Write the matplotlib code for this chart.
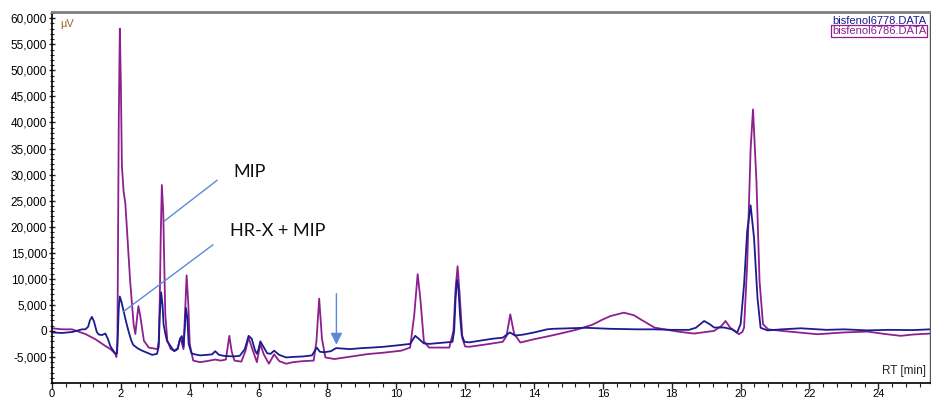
import matplotlib.pyplot as plt
from matplotlib.ticker import MultipleLocator, FuncFormatter

# retention time [min] and signal [uV]
t_6778 = [0.0, 0.3, 0.6, 0.87, 0.97, 1.05, 1.1, 1.16, 1.22, 1.3, 1.36, 1.45, 1.55, 1.62, 1.7,
          1.84, 1.89, 1.91, 1.94, 1.97, 2.02, 2.08, 2.15, 2.22, 2.3, 2.36, 2.5, 2.62, 2.8, 2.91,
          3.05, 3.1, 3.13, 3.17, 3.21, 3.24, 3.29, 3.34, 3.45, 3.55, 3.65, 3.72, 3.77, 3.82, 3.86,
          3.89, 3.93, 3.97, 4.05, 4.15, 4.3, 4.5, 4.65, 4.74, 4.85, 5.0, 5.27, 5.45, 5.6, 5.71,
          5.8, 5.9, 5.95, 6.0, 6.05, 6.12, 6.25, 6.35, 6.45, 6.6, 6.8, 7.0, 7.3, 7.55, 7.69,
          7.78, 7.9, 8.1, 8.25, 8.45, 8.66, 9.0, 9.3, 9.63, 10.0, 10.4, 10.55, 10.65, 10.8, 10.95,
          11.3, 11.63, 11.68, 11.72, 11.76, 11.8, 11.85, 11.9, 11.98, 12.12, 12.5, 12.8, 13.09, 13.3, 13.45,
          13.7, 14.0, 14.38, 14.56, 15.0, 15.5, 16.2, 17.0, 17.5, 18.0, 18.5, 18.7, 18.94, 19.1, 19.23,
          19.52, 19.75, 19.9, 20.0, 20.1, 20.19, 20.29, 20.39, 20.49, 20.58, 20.78, 21.2, 21.74, 22.5, 23.0,
          23.68, 24.3, 25.0, 25.5]
v_6778 = [-300, -400, -200, 300, 300, 800, 2000, 2700, 1800, -200, -700, -800, -500, -1500, -3000,
          -4400, -4300, -1000, 4500, 6600, 5500, 3800, 1800, 0, -1800, -2700, -3400, -3800, -4300, -4600,
          -4400, -3000, 3000, 7400, 5000, 1300, -500, -1900, -3000, -3900, -3500, -1500, -1000, -3000, 1000,
          4400, 2500, -2500, -4300, -4500, -4700, -4600, -4500, -3900, -4600, -4800, -4900, -4800, -3500, -950,
          -1500, -3800, -4400, -3500, -2000, -2800, -4300, -4400, -3800, -4600, -5100, -5000, -4900, -4700, -3200,
          -4000, -4100, -3900, -3300, -3400, -3500, -3300, -3200, -3050, -2800, -2500, -950, -1500, -2400, -2500,
          -2300, -2100, 0, 6000, 9800, 8500, 3000, -800, -2100, -2200, -1800, -1500, -1300, -300, -900,
          -700, -300, 300, 400, 500, 600, 400, 300, 300, 200, 200, 600, 1900, 1300, 650,
          650, 300, -300, 1300, 8900, 19100, 24100, 17800, 6300, 600, 100, 300, 500, 200, 300,
          100, 200, 150, 300]

t_6786 = [0.0, 0.3, 0.58, 0.8, 0.97, 1.26, 1.55, 1.7, 1.84, 1.87, 1.9, 1.92, 1.94, 1.97, 2.0,
          2.03, 2.08, 2.13, 2.18, 2.27, 2.37, 2.42, 2.47, 2.51, 2.56, 2.67, 2.81, 3.06, 3.1, 3.13,
          3.16, 3.19, 3.23, 3.26, 3.29, 3.35, 3.45, 3.55, 3.65, 3.72, 3.76, 3.82, 3.86, 3.91, 3.96,
          4.0, 4.1, 4.3, 4.5, 4.74, 4.9, 5.05, 5.15, 5.22, 5.3, 5.5, 5.62, 5.71, 5.82, 5.95,
          6.05, 6.15, 6.3, 6.45, 6.6, 6.8, 7.0, 7.3, 7.6, 7.68, 7.76, 7.84, 7.94, 8.2, 8.6,
          9.17, 9.6, 10.14, 10.4, 10.52, 10.62, 10.7, 10.8, 10.95, 11.54, 11.66, 11.72, 11.78, 11.84, 11.92,
          12.0, 12.12, 12.6, 13.09, 13.2, 13.31, 13.42, 13.6, 14.0, 14.47, 14.9, 15.27, 15.7, 16.0, 16.22,
          16.61, 16.9, 17.1, 17.5, 18.17, 18.65, 19.0, 19.23, 19.45, 19.56, 19.7, 19.95, 20.05, 20.1, 20.19,
          20.29, 20.36, 20.46, 20.55, 20.65, 20.8, 21.2, 22.23, 23.0, 23.68, 24.2, 24.65, 25.0, 25.5]
v_6786 = [500, 300, 300, -200, -600, -1600, -2900, -3500, -4400, -5000, -2000, 20000, 41000, 58000, 47500,
          31700, 26700, 24500, 19100, 9500, 1300, -600, 2500, 4760, 3000, -1900, -3200, -3500, -2000, 6000,
          19000, 28000, 22900, 12700, 3200, -1900, -3500, -3800, -3300, -1500, -2000, -3500, 3000, 10660, 5000,
          -2500, -5700, -6000, -5800, -5500, -5700, -5500, -950, -4000, -5700, -5900, -3800, -1300, -3500, -6000,
          -2500, -4500, -6300, -4500, -5800, -6300, -6000, -5800, -5700, -2000, 6200, -1500, -5100, -5400, -5000,
          -4450, -4200, -3800, -3200, 3000, 10900, 6000, -2000, -3200, -3200, 0, 8000, 12400, 7000, -1500,
          -3000, -3050, -2600, -2100, -1000, 3170, -500, -2230, -1600, -950, -300, 300, 1200, 2200, 2850,
          3500, 3000, 2200, 630, -130, -510, -200, 0, 1000, 1900, 600, -640, -200, 630, 12700,
          34900, 42500, 28600, 9500, 1270, 300, 0, -640, -300, -130, -600, -950, -700, -510]

y_ticks = list(range(-5000, 60001, 5000))
x_ticks = list(range(0, 26, 2))

blue = '#1c1c8f'
purple = '#8e1f8e'
note = '#5a8ad8'

plt.rcParams['font.family'] = ['Liberation Sans', 'DejaVu Sans']

fig = plt.figure(figsize=(9.31, 4.0), dpi=100)
ax = fig.add_axes([52 / 931, 17 / 400, 878 / 931, 371 / 400])

ax.plot(t_6786, v_6786, color=purple, lw=1.3)
ax.plot(t_6778, v_6778, color=blue, lw=1.3)

ax.set_xlim(0, 25.5)
ax.set_ylim(-10000, 61200)
ax.set_xticks(x_ticks)
ax.set_yticks(y_ticks)
ax.xaxis.set_minor_locator(MultipleLocator(0.4))
ax.yaxis.set_minor_locator(MultipleLocator(1000))
ax.yaxis.set_major_formatter(FuncFormatter(lambda v, p: f"{v:,.0f}"))
ax.tick_params(axis='both', which='major', labelsize=8.5, length=5, width=1, color='#222222', pad=1)
ax.tick_params(axis='both', which='minor', length=3, width=0.8, color='#222222')
ax.tick_params(axis='y', which='both', direction='inout')
ax.tick_params(axis='x', which='both', direction='out')
ax.tick_params(axis='x', which='major', labelsize=8, length=4, pad=0.5)

ax.spines['top'].set_color('#7f7f7f')
ax.spines['top'].set_linewidth(2)
ax.spines['right'].set_color('#555555')
ax.spines['right'].set_linewidth(1)
ax.spines['left'].set_linewidth(1.2)
ax.spines['bottom'].set_linewidth(1.2)

ax.text(0.25, 58300, 'µV', color='#9c6a2a', fontsize=8)
ax.text(0.995, 0.015, 'RT [min]', transform=ax.transAxes, ha='right', va='bottom',
        fontsize=8.5, color='#222222')
ax.text(0.9955, 0.975, 'bisfenol6778.DATA', transform=ax.transAxes, ha='right', va='center',
        fontsize=8, color=blue)
ax.text(0.9955, 0.948, 'bisfenol6786.DATA', transform=ax.transAxes, ha='right', va='center',
        fontsize=8, color=purple,
        bbox=dict(boxstyle='square,pad=0.08', fc='none', ec=purple, lw=0.9))

ax.plot([4.79, 3.26], [28880, 21070], color=note, lw=1)
ax.plot([4.67, 2.07], [16500, 3680], color=note, lw=1)
ax.text(5.26, 30540, 'MIP', fontsize=13, va='center', family='Lato', color='#111111')
ax.text(5.17, 19110, 'HR-X + MIP', fontsize=13, va='center', family='Lato', color='#111111')
ax.annotate('', xy=(8.26, -3180), xytext=(8.26, 7680),
            arrowprops=dict(arrowstyle='-|>,head_length=0.7,head_width=0.35', color=note, lw=1))

fig.savefig('out.png', dpi=100)
